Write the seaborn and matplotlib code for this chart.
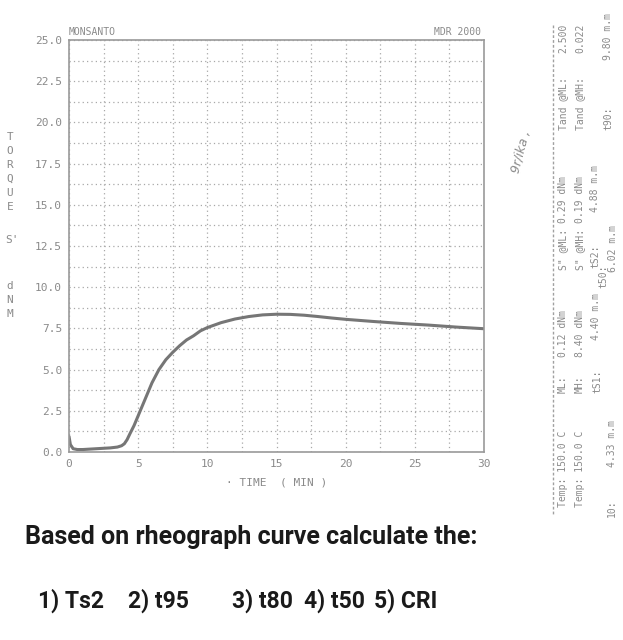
import matplotlib
matplotlib.use("Agg")
import matplotlib.pyplot as plt
import seaborn as sns
import pandas as pd
from matplotlib.ticker import MultipleLocator

time_min = [0.0, 0.1, 0.3, 0.6, 1.0, 2.0, 3.0, 3.5, 3.8, 4.0, 4.2, 4.4, 4.7, 5.0,
            5.5, 6.0, 6.5, 7.0, 7.5, 8.0, 8.5, 9.0, 9.5, 10.0, 11.0, 12.0, 13.0,
            14.0, 15.0, 16.0, 17.0, 18.0, 19.0, 20.0, 22.0, 24.0, 26.0, 28.0, 30.0]
torque_dnm = [0.95, 0.45, 0.2, 0.15, 0.15, 0.2, 0.25, 0.3, 0.38, 0.5, 0.75, 1.1, 1.6, 2.2,
              3.2, 4.2, 5.0, 5.6, 6.05, 6.45, 6.8, 7.05, 7.35, 7.55, 7.85, 8.07, 8.22,
              8.32, 8.36, 8.35, 8.3, 8.22, 8.13, 8.05, 7.92, 7.8, 7.7, 7.58, 7.48]
x_ticks = [0, 5, 10, 15, 20, 25, 30]
y_ticks = [0.0, 2.5, 5.0, 7.5, 10.0, 12.5, 15.0, 17.5, 20.0, 22.5, 25.0]

panel_lines = [
    # (x_px, y_px_bottom, text)
    (563, 507, "Temp: 150.0 C"),
    (563, 393, "ML:"),
    (563, 357, "0.12 dNm"),
    (563, 270, 'S" @ML:'),
    (563, 223, "0.29 dNm"),
    (563, 130, "Tand @ML:"),
    (563, 53, "2.500"),
    (580, 507, "Temp: 150.0 C"),
    (580, 393, "MH:"),
    (580, 357, "8.40 dNm"),
    (580, 270, 'S" @MH:'),
    (580, 223, "0.19 dNm"),
    (580, 130, "Tand @MH:"),
    (580, 53, "0.022"),
    (597, 393, "tS1:"),
    (596, 340, "4.40 m.m"),
    (595, 268, "tS2:"),
    (595, 212, "4.88 m.m"),
    (612, 517, "10:"),
    (612, 467, "4.33 m.m"),
    (603, 288, "t50:"),
    (613, 272, "6.02 m.m"),
    (608, 130, "t90:"),
    (608, 60, "9.80 m.m"),
]

questions = [(38, "1) Ts2"), (128, "2) t95"), (232, "3) t80"), (304, "4) t50"), (374, "5) CRI")]

W, H = 623, 640
fig = plt.figure(figsize=(W / 100, H / 100), dpi=100)
sns.set_style("white")
plt.rcParams['font.family'] = ['DejaVu Sans Mono', 'DejaVu Sans']

ax = fig.add_axes([69 / W, 1 - 452 / H, (484 - 69) / W, (452 - 40) / H])
df = pd.DataFrame({"time": time_min, "torque": torque_dnm})
sns.lineplot(data=df, x="time", y="torque", ax=ax, color="#767676", linewidth=2.2)

ax.set_xlim(0, 30)
ax.set_ylim(0, 25)
ax.set_xticks(x_ticks)
ax.set_xticklabels([str(v) for v in x_ticks])
ax.set_yticks(y_ticks)
ax.set_yticklabels([f"{v:.1f}" for v in y_ticks])
ax.xaxis.set_minor_locator(MultipleLocator(2.5))
ax.yaxis.set_minor_locator(MultipleLocator(1.25))
ax.grid(True, which="both", linestyle=(0, (1, 2.5)), color="#a8a8a8", linewidth=0.9)
ax.tick_params(which="both", length=0, labelsize=8, labelcolor="#8a8a8a", pad=5)
for s in ax.spines.values():
    s.set_color("#9a9a9a")
    s.set_linewidth(1.2)
ax.set_xlabel("· TIME  ( MIN )", fontsize=8, color="#8a8a8a", labelpad=6)
ax.set_ylabel("")

fig.text(69 / W, 1 - 37 / H, "MONSANTO", fontsize=7, color="#8a8a8a", ha="left", va="bottom")
fig.text(481 / W, 1 - 37 / H, "MDR 2000", fontsize=7, color="#8a8a8a", ha="right", va="bottom")

for i, ch in enumerate("TORQUE"):
    fig.text(10 / W, 1 - (137 + 14 * i) / H, ch, fontsize=8, color="#8a8a8a", ha="center", va="center")
fig.text(12 / W, 1 - 240 / H, "S'", fontsize=8, color="#8a8a8a", ha="center", va="center")
for i, ch in enumerate("dNM"):
    fig.text(10 / W, 1 - (286 + 14 * i) / H, ch, fontsize=8, color="#8a8a8a", ha="center", va="center")

# dashed divider of the printout panel
fig.add_artist(plt.Line2D([553 / W, 553 / W], [1 - 25 / H, 1 - 515 / H], transform=fig.transFigure,
                          color="#a0a0a0", linestyle=(0, (2, 1.5)), linewidth=1.0))
for x, y, t in panel_lines:
    fig.text(x / W, 1 - y / H, t, rotation=90, fontsize=7, color="#8a8a8a", ha="center", va="bottom")

fig.text(521 / W, 1 - 152 / H, "9r/ika ,", rotation=75, fontsize=9, color="#8a8a8a",
         ha="center", va="center", family=["DejaVu Sans"], style="italic")

fig.text(25 / W, 1 - 537 / H, "Based on rheograph curve calculate the:", fontsize=18,
         fontweight="bold", color="#1a1a1a", ha="left", va="center", family=["Roboto", "DejaVu Sans"])
for x, t in questions:
    fig.text(x / W, 1 - 601 / H, t, fontsize=16.5, fontweight="bold", color="#1a1a1a",
             ha="left", va="center", family=["Roboto", "DejaVu Sans"])

fig.savefig("out.png", dpi=100, facecolor="white")
